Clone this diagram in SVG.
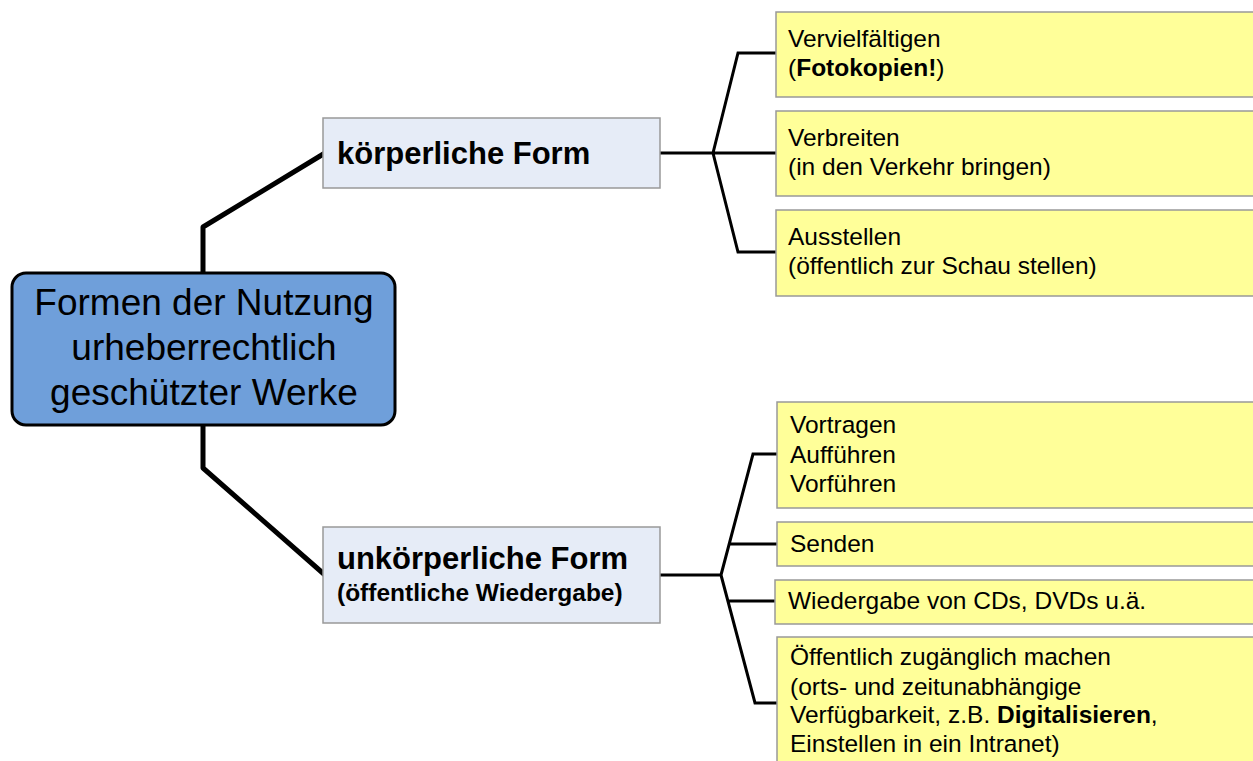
<svg xmlns="http://www.w3.org/2000/svg" width="1253" height="761" viewBox="0 0 1253 761">
<style>
text{font-family:"Liberation Sans",Arial,sans-serif;fill:#000}
.main{font-size:37px;text-anchor:middle}
.mid{fill:#e6ecf7;stroke:#999;stroke-width:1.5}
.leaf{fill:#ffff99;stroke:#999;stroke-width:1.5}
.t1{font-size:31px;font-weight:bold}
.t2{font-size:24.5px;font-weight:bold}
.lt{font-size:24.5px}
.b{font-weight:bold}
.thick{fill:none;stroke:#000;stroke-width:5;stroke-linecap:round;stroke-linejoin:round}
.thin{fill:none;stroke:#000;stroke-width:3;stroke-linejoin:miter}
</style>
<rect width="1253" height="761" fill="#fff"/>
<g id="connectors">
<path class="thick" d="M203,273 V227 L325,153"/>
<path class="thick" d="M203,425 V468 L325,575"/>
<path class="thin" d="M660,153 H713 M713,153 L738,53 H776 M713,153 H776 M713,153 L738,252 H776"/>
<path class="thin" d="M660,575 H721 M721,575 L753,454 H777 M729,544 H777 M721,575 L755,703 H777 M728,601 H775"/>
</g>
<g id="root">
<rect x="12" y="273" width="383" height="152" rx="14" fill="#6f9fda" stroke="#000" stroke-width="3"/>
<text class="main" x="204" y="315">Formen der Nutzung</text>
<text class="main" x="204" y="360">urheberrechtlich</text>
<text class="main" x="204" y="405">geschützter Werke</text>
</g>
<g id="koerperlich">
<rect class="mid" x="323" y="118" width="337" height="70"/>
<text class="t1" x="337" y="164">körperliche Form</text>
</g>
<g id="unkoerperlich">
<rect class="mid" x="323" y="527" width="337" height="96"/>
<text class="t1" x="337" y="569">unkörperliche Form</text>
<text class="t2" x="337" y="601">(öffentliche Wiedergabe)</text>
</g>
<g id="vervielfaeltigen">
<rect class="leaf" x="776" y="12" width="490" height="85"/>
<text class="lt" x="788" y="47">Vervielfältigen</text>
<text class="lt" x="788" y="76">(<tspan class="b">Fotokopien!</tspan>)</text>
</g>
<g id="verbreiten">
<rect class="leaf" x="776" y="111" width="490" height="85"/>
<text class="lt" x="788" y="146">Verbreiten</text>
<text class="lt" x="788" y="175">(in den Verkehr bringen)</text>
</g>
<g id="ausstellen">
<rect class="leaf" x="776" y="210" width="490" height="86"/>
<text class="lt" x="788" y="245">Ausstellen</text>
<text class="lt" x="788" y="274">(öffentlich zur Schau stellen)</text>
</g>
<g id="vortragen">
<rect class="leaf" x="777" y="402" width="490" height="106"/>
<text class="lt" x="790" y="433">Vortragen</text>
<text class="lt" x="790" y="463">Aufführen</text>
<text class="lt" x="790" y="492">Vorführen</text>
</g>
<g id="senden">
<rect class="leaf" x="777" y="522" width="490" height="44"/>
<text class="lt" x="790" y="552">Senden</text>
</g>
<g id="wiedergabe">
<rect class="leaf" x="775" y="580" width="490" height="44"/>
<text class="lt" x="788" y="609">Wiedergabe von CDs, DVDs u.ä.</text>
</g>
<g id="zugaenglich">
<rect class="leaf" x="777" y="637" width="490" height="140"/>
<text class="lt" x="790" y="665">Öffentlich zugänglich machen</text>
<text class="lt" x="790" y="695">(orts- und zeitunabhängige</text>
<text class="lt" x="790" y="723">Verfügbarkeit, z.B. <tspan class="b">Digitalisieren</tspan>,</text>
<text class="lt" x="790" y="752">Einstellen in ein Intranet)</text>
</g>
</svg>
